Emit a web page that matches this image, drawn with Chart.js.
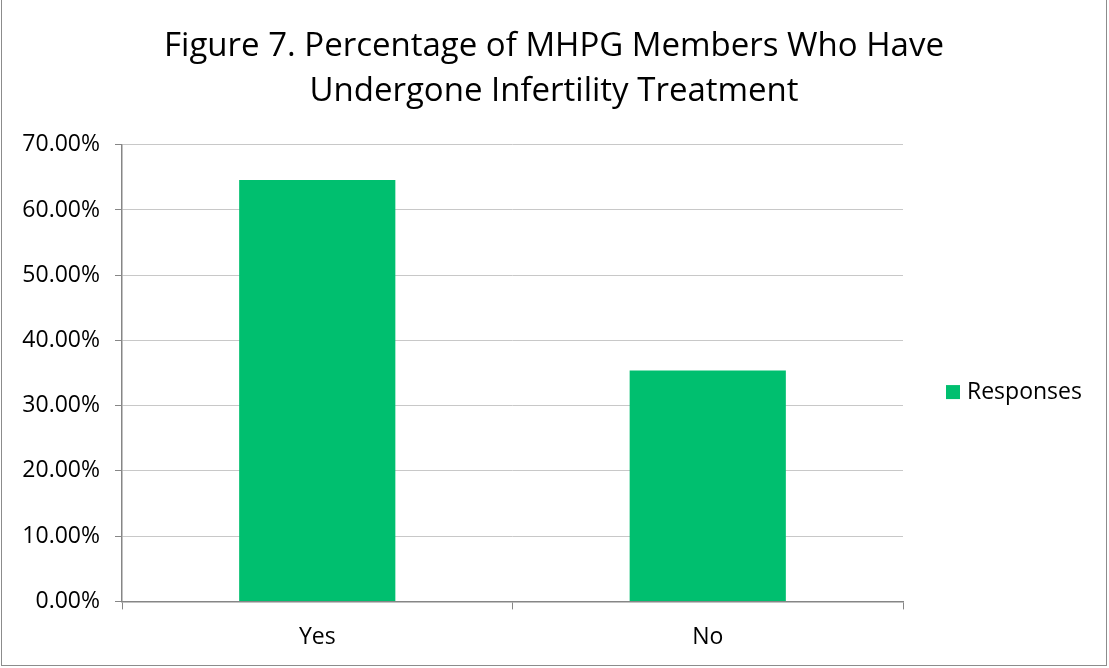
<!DOCTYPE html>
<html>
<head>
<meta charset="utf-8">
<script src="https://cdn.jsdelivr.net/npm/chart.js@4"></script>
<style>
  html, body { margin: 0; padding: 0; background: #fff; }
  #wrap { position: absolute; left: 1px; top: 0; width: 1106px; height: 666px; border: 1px solid #8c8c8c; border-top: none; box-sizing: border-box; }
  canvas { display: block; }
</style>
</head>
<body>
<div id="wrap"><canvas id="chart"></canvas></div>
<script>
// données du graphique
const categories = ['Yes', 'No'];
const responses = [64.6, 35.4];
const seriesName = 'Responses';
const titleLines = ['Figure 7. Percentage of MHPG Members Who Have', 'Undergone Infertility Treatment'];

const fontFamily = "'Open Sans', 'Liberation Sans', sans-serif";
const barColor = '#00bf6f';

// légende à droite, style Excel
const sideLegend = {
    id: 'sideLegend',
    afterDraw(chart) {
        const { ctx, chartArea } = chart;
        const x = chartArea.right + 43;
        const y = (chartArea.top + chartArea.bottom) / 2 + 19;
        ctx.save();
        ctx.fillStyle = barColor;
        ctx.fillRect(x, y - 7, 14, 14);
        ctx.fillStyle = '#000';
        ctx.font = `23px ${fontFamily}`;
        ctx.textBaseline = 'middle';
        ctx.fillText(chart.data.datasets[0].label, x + 21, y);
        ctx.restore();
    }
};

new Chart(document.getElementById('chart'), {
    type: 'bar',
    data: {
        labels: categories,
        datasets: [{
            label: seriesName,
            data: responses,
            backgroundColor: barColor,
            borderWidth: 0,
            barPercentage: 0.4,
            categoryPercentage: 1
        }]
    },
    options: {
        responsive: true,
        maintainAspectRatio: false,
        animation: false,
        layout: { padding: { left: 0, right: 0, top: 0, bottom: 0 } },
        plugins: {
            title: {
                display: true,
                text: titleLines,
                color: '#000',
                font: { family: fontFamily, size: 33, weight: 'normal', lineHeight: 1.36 },
                padding: { top: 24, bottom: 31 }
            },
            legend: { display: false },
            tooltip: { enabled: false }
        },
        scales: {
            x: {
                offset: true,
                grid: { display: true, drawOnChartArea: false, offset: true, tickLength: 8, color: '#868686' },
                border: { color: '#868686', width: 1.5 },
                ticks: { color: '#000', font: { family: fontFamily, size: 23 }, padding: 14 }
            },
            y: {
                min: 0,
                max: 70,
                afterFit: scale => { scale.width = 120; },
                ticks: {
                    stepSize: 10,
                    color: '#000',
                    font: { family: fontFamily, size: 23 },
                    padding: 15,
                    callback: v => v.toFixed(2) + '%'
                },
                grid: { color: '#c8c8c8', tickLength: 7, tickColor: '#868686' },
                border: { color: '#868686', width: 1.5 }
            },
            // espace réservé pour la légende (invisible)
            legendSpace: {
                type: 'linear',
                position: 'right',
                afterFit: scale => { scale.width = 203; },
                grid: { display: false },
                border: { display: false },
                ticks: { display: false }
            }
        }
    },
    plugins: [sideLegend]
});
</script>
</body>
</html>
